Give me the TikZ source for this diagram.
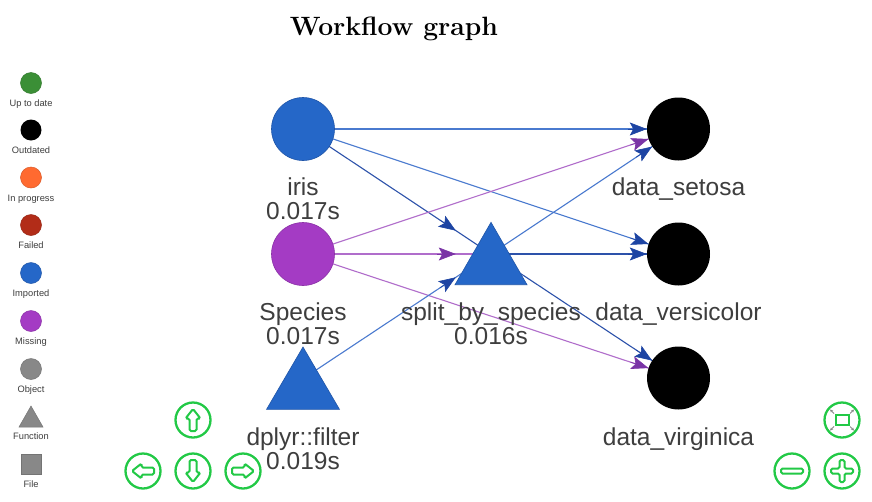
\documentclass[tikz,border=0pt]{standalone}
\usepackage{fontspec}
\newfontfamily\lblfam{Liberation Sans}
\usetikzlibrary{arrows.meta,calc}
\definecolor{impblue}{HTML}{2567C8}
\definecolor{impborder}{HTML}{1F55A8}
\definecolor{misspurple}{HTML}{A43BC4}
\definecolor{uptogreen}{HTML}{3B8F36}
\definecolor{progorange}{HTML}{FF6A30}
\definecolor{failred}{HTML}{B22C18}
\definecolor{objgray}{HTML}{888888}
\definecolor{lineblue}{HTML}{4A7ACF}
\definecolor{darkline}{HTML}{2D52AA}
\definecolor{tipblue}{HTML}{1D44A3}
\definecolor{linepurple}{HTML}{B06DCB}
\definecolor{tippurple}{HTML}{7A34A6}
\definecolor{labelgray}{HTML}{3E3E3E}
\definecolor{navgreen}{HTML}{22C946}
\pgfdeclarelayer{bg}
\pgfsetlayers{bg,main}
\newcommand\lbltwo[2]{\begin{tabular}[t]{@{}c@{}}#1\\#2\end{tabular}}
\newcommand\lblone[1]{\begin{tabular}[t]{@{}c@{}}#1\end{tabular}}
\newcommand\wfedge[4]{%
  \begin{pgfonlayer}{bg}
  \draw[#3, line width=1.1pt] (#1.center) -- (#2.center);
  \path (#1.center) -- (#2) coordinate[pos=1] (tmptip);
  \draw[#4, line width=0.6pt, -{Stealth[length=17pt,width=13pt,inset=3.5pt]}] ($(tmptip)!19pt!(#1.center)$) -- (tmptip);
  \end{pgfonlayer}}
\tikzset{
  gcircle/.style={circle, minimum size=63pt, inner sep=0pt},
  gbox/.style={rectangle, minimum width=70pt, minimum height=70pt, inner sep=0pt},
  lbl/.style={inner sep=0pt, anchor=base, text=labelgray, font=\lblfam\fontsize{24.5}{24}\selectfont},
  legtxt/.style={inner sep=0pt, anchor=base, text=labelgray, font=\lblfam\fontsize{9.3}{10}\selectfont},
  legdot/.style={circle, minimum size=21pt, inner sep=0pt, line width=0.5pt},
  navring/.style={draw=navgreen, line width=2.3pt},
  navicon/.style={draw=navgreen, line width=2pt, rounded corners=1.5pt},
  pics/navarrow/.style={code={
    \draw[navring] (0,0) circle (17.5);
    \draw[navicon, rotate=#1] (0,-11) -- (7.5,-1.5) -- (3.5,-1.5) -- (3.5,11) -- (-3.5,11) -- (-3.5,-1.5) -- (-7.5,-1.5) -- cycle;
  }},
}
\begin{document}
\begin{tikzpicture}[x=1pt,y=-1pt]
\useasboundingbox (0,0) rectangle (872,501);
\begin{pgfonlayer}{bg}
\fill[white] (0,0) rectangle (872,501);
\end{pgfonlayer}

% title
\node[inner sep=0pt, anchor=base, font=\fontsize{26.5}{26.5}\selectfont\bfseries] (title) at (394,35) {Workflow graph};

% graph nodes
\node[gcircle, fill=impblue, draw=impborder, line width=0.6pt] (iris) at (303,129) {};
\node[gcircle, fill=misspurple, draw=misspurple!85!black, line width=0.6pt] (species) at (303,254) {};
\node[gbox] (filter) at (303,378.7) {};
\node[gbox] (split) at (491,254) {};
\node[gcircle, fill=black] (setosa) at (678.5,129) {};
\node[gcircle, fill=black] (versicolor) at (678.5,254) {};
\node[gcircle, fill=black] (virginica) at (678.5,378) {};
\filldraw[fill=impblue, draw=impborder, line width=0.6pt] ($(split.center)+(0,-31.7)$) -- ++(36,62.4) -- ++(-72,0) -- cycle;
\filldraw[fill=impblue, draw=impborder, line width=0.6pt] ($(filter.center)+(0,-31.7)$) -- ++(36.5,62.4) -- ++(-73,0) -- cycle;

% edges
\wfedge{iris}{setosa}{lineblue}{tipblue}
\wfedge{iris}{versicolor}{lineblue}{tipblue}
\wfedge{iris}{split}{darkline}{tipblue}
\wfedge{species}{setosa}{linepurple}{tippurple}
\wfedge{species}{split}{linepurple}{tippurple}
\wfedge{species}{virginica}{linepurple}{tippurple}
\wfedge{split}{setosa}{lineblue}{tipblue}
\wfedge{split}{versicolor}{darkline}{tipblue}
\wfedge{split}{virginica}{darkline}{tipblue}
\wfedge{filter}{split}{lineblue}{tipblue}

% labels
\node[lbl] (lbliris) at (303,195) {\lbltwo{iris}{0.017s}};
\node[lbl] (lblspecies) at (303,320) {\lbltwo{Species}{0.017s}};
\node[lbl] (lblfilter) at (303,445) {\lbltwo{dplyr::filter}{0.019s}};
\node[lbl] (lblsplit) at (491,320) {\lbltwo{split\_by\_species}{0.016s}};
\node[lbl] (lblsetosa) at (678.5,195) {\lblone{data\_setosa}};
\node[lbl] (lblversicolor) at (678.5,320) {\lblone{data\_versicolor}};
\node[lbl] (lblvirginica) at (678.5,445) {\lblone{data\_virginica}};

% legend
\node[legdot, fill=uptogreen, draw=uptogreen!85!black] (lg1) at (31,83) {};
\node[legtxt] (lt1) at (31,106) {Up to date};
\node[legdot, fill=black] (lg2) at (31,130) {};
\node[legtxt] (lt2) at (31,153.6) {Outdated};
\node[legdot, fill=progorange, draw=progorange!85!black] (lg3) at (31,177.5) {};
\node[legtxt] (lt3) at (31,201.5) {In progress};
\node[legdot, fill=failred, draw=failred!85!black] (lg4) at (31,225) {};
\node[legtxt] (lt4) at (31,248.6) {Failed};
\node[legdot, fill=impblue, draw=impborder] (lg5) at (31,273) {};
\node[legtxt] (lt5) at (31,296.6) {Imported};
\node[legdot, fill=misspurple, draw=misspurple!85!black] (lg6) at (31,321) {};
\node[legtxt] (lt6) at (31,344.6) {Missing};
\node[legdot, fill=objgray, draw=objgray!85!black] (lg7) at (31,369) {};
\node[legtxt] (lt7) at (31,392.6) {Object};
\filldraw[fill=objgray, draw=objgray!85!black, line width=0.5pt] (31,406) -- (43,427) -- (19,427) -- cycle;
\node[legtxt] (lt8) at (31,439.6) {Function};
\filldraw[fill=objgray, draw=objgray!85!black, line width=0.5pt] (21,454.5) rectangle (41,474.5);
\node[legtxt] (lt9) at (31,487.6) {File};

% navigation buttons
\pic at (193,420) {navarrow=0};
\pic at (143,471) {navarrow=90};
\pic at (193,471) {navarrow=180};
\pic at (243,471) {navarrow=-90};

% zoom buttons
\draw[navring] (842,420) circle (17.5);
\draw[draw=navgreen, line width=2pt] (835.5,415) rectangle (848.5,425);
\foreach \sx/\sy in {1/1,1/-1,-1/1,-1/-1}{
  \draw[objgray, line width=0.8pt, -{Stealth[length=3pt,width=3pt]}] (842+8*\sx,420+6.5*\sy) -- (842+12*\sx,420+10.5*\sy);
}
\draw[navring] (792,471) circle (17.5);
\draw[navicon] (781,468.5) rectangle (803,473.5);
\draw[navring] (842,471) circle (17.5);
\draw[navicon] (839.5,460) -- (844.5,460) -- (844.5,468.5) -- (853,468.5) -- (853,473.5) -- (844.5,473.5) -- (844.5,482) -- (839.5,482) -- (839.5,473.5) -- (831,473.5) -- (831,468.5) -- (839.5,468.5) -- cycle;
\end{tikzpicture}
\end{document}
